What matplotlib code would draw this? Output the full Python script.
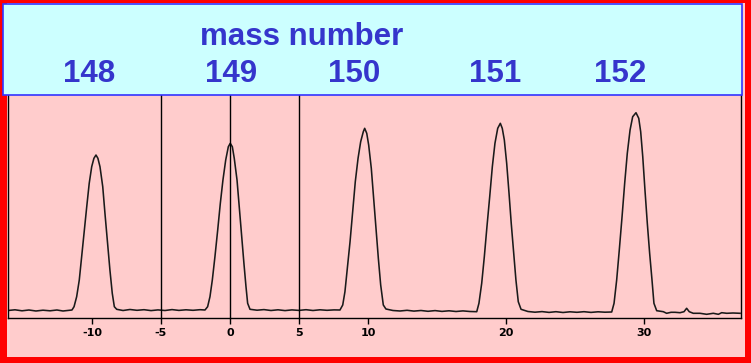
import matplotlib

matplotlib.use("Agg")
import matplotlib.pyplot as plt
import matplotlib.transforms as mtransforms
from matplotlib.patches import Rectangle

# Spectrum trace: offset (channel units) and intensity (counts)
offset = [
    -16.09, -15.58, -15.07, -14.57, -14.06, -13.55, -13.04, -12.54, -12.10, -11.74, -11.45,
    -11.30, -11.11, -10.92, -10.75, -10.58, -10.38, -10.20, -10.02, -9.86, -9.71,
    -9.57, -9.42, -9.22, -9.06, -8.89, -8.70, -8.53, -8.38, -8.21,
    -7.75, -7.25, -6.74, -6.23, -5.72, -5.22, -4.71, -4.20, -3.70, -3.19, -2.68, -2.17, -1.81,
    -1.62, -1.45, -1.28, -1.09, -0.89, -0.70, -0.51, -0.31, -0.12, 0.02,
    0.17, 0.31, 0.51, 0.67, 0.85, 1.01, 1.16, 1.28, 1.45,
    1.96, 2.46, 2.97, 3.48, 3.99, 4.49, 5.00, 5.51, 6.01, 6.52, 7.03, 7.54, 7.97,
    8.17, 8.33, 8.50, 8.70, 8.89, 9.08, 9.28, 9.47, 9.66, 9.76,
    9.91, 10.05, 10.24, 10.41, 10.58, 10.75, 10.92, 11.11, 11.30,
    11.81, 12.32, 12.83, 13.33, 13.84, 14.35, 14.86, 15.36, 15.87, 16.38, 16.88, 17.39, 17.88,
    18.04, 18.24, 18.43, 18.62, 18.82, 19.01, 19.20, 19.40, 19.59,
    19.73, 19.88, 20.05, 20.22, 20.38, 20.56, 20.72, 20.89, 21.09,
    21.59, 22.10, 22.61, 23.12, 23.62, 24.13, 24.64, 25.14, 25.65, 26.16, 26.67, 27.17, 27.66,
    27.83, 28.02, 28.21, 28.41, 28.60, 28.79, 28.99, 29.18, 29.42,
    29.62, 29.76, 29.91, 30.07, 30.24, 30.41, 30.58, 30.72, 30.92,
    31.40, 31.64, 31.96, 32.25, 32.61, 32.90, 33.09, 33.28, 33.57, 34.06, 34.54, 35.02,
    35.39, 35.63, 36.00, 36.45, 36.96,
]
intensity = [
    8.0, 8.7, 7.7, 8.5, 7.5, 8.3, 7.7, 8.5, 7.5, 8.0, 8.5,
    11.8, 21.8, 38.5, 61.8, 85.2, 111.8, 135.2, 151.8, 160.2, 163.5,
    160.2, 151.8, 131.8, 105.2, 78.5, 48.5, 25.2, 11.8, 9.2,
    8.0, 9.0, 8.2, 8.8, 7.9, 8.6, 8.0, 8.9, 8.1, 8.7, 8.2, 8.8, 8.5,
    11.8, 21.8, 38.5, 61.8, 88.5, 115.2, 138.5, 158.5, 171.8, 175.2,
    171.8, 160.2, 138.5, 111.8, 81.8, 55.2, 31.8, 15.2, 9.2,
    8.3, 8.9, 8.0, 8.7, 7.9, 8.6, 8.1, 8.8, 8.0, 8.7, 8.2, 8.6, 8.5,
    13.5, 26.8, 50.2, 76.8, 106.8, 136.8, 160.2, 176.8, 186.8, 190.2,
    185.2, 173.5, 150.2, 120.2, 90.2, 60.2, 33.5, 13.5, 9.5,
    8.0, 7.5, 8.2, 7.4, 8.0, 7.2, 7.9, 7.1, 7.7, 7.0, 7.6, 7.0, 6.8,
    15.2, 35.2, 61.8, 91.8, 121.8, 151.8, 175.2, 190.2, 195.2,
    190.2, 178.5, 155.2, 125.2, 95.2, 65.2, 38.5, 16.8, 9.2,
    7.0, 6.3, 6.9, 6.1, 6.8, 6.0, 6.7, 6.2, 6.8, 6.1, 6.7, 6.3, 6.5,
    15.2, 38.5, 68.5, 101.8, 135.2, 165.2, 188.5, 201.8, 205.8,
    200.2, 186.8, 161.8, 128.5, 95.2, 65.2, 38.5, 15.2, 7.8,
    6.8, 5.2, 6.2, 6.2, 5.8, 6.8, 10.2, 6.8, 5.2, 5.2, 4.2, 5.2,
    4.2, 5.8, 5.2, 5.5, 5.2,
]

tick_pos = [-10, -5, 0, 5, 10, 20, 30]
marker_lines = [-5, 0, 5]

mass_numbers = ["148", "149", "150", "151", "152"]
mass_pos = [-10.2, 0.1, 9.0, 19.2, 28.3]

RED = "#ff0000"
PINK = "#ffcccc"
CYAN = "#ccffff"
BLUE = "#3535cc"

fig = plt.figure(figsize=(7.51, 3.63), dpi=100, facecolor=RED)

# pink panel inside the red frame, kept under the axes
fig.patches.append(
    Rectangle((0.0093, 0.0165), 0.9827, 0.975, transform=fig.transFigure,
              facecolor=PINK, edgecolor="none", zorder=-1)
)

ax = fig.add_axes([0.0113, 0.1226, 0.9754, 0.6294])
ax.set_facecolor("none")
ax.plot(offset, intensity, color="#1a1a1a", linewidth=1.15)
for xv in marker_lines:
    ax.axvline(xv, color="black", linewidth=1.0)

ax.set_xlim(-16.05, 37.03)
ax.set_ylim(0, 228.5)
ax.set_xticks(tick_pos)
ax.set_xticklabels([str(t) for t in tick_pos], fontsize=8, fontweight="bold")
ax.tick_params(axis="x", direction="out", length=4, width=1, pad=2.5)
ax.set_yticks([])
ax.spines["top"].set_visible(False)
for s in ("left", "right", "bottom"):
    ax.spines[s].set_linewidth(1.0)

# header box with the mass number scale, drawn over the top of the axes
fig.patches.append(
    Rectangle((0.004, 0.7383), 0.984, 0.2507, transform=fig.transFigure,
              facecolor=CYAN, edgecolor="#3333ff", linewidth=1.2, zorder=2)
)
fig.text(0.402, 0.876, "mass number", ha="center", va="baseline",
         fontsize=22.5, fontweight="bold", color=BLUE, family="Liberation Sans", zorder=3)

trans = mtransforms.blended_transform_factory(ax.transData, fig.transFigure)
for lab, xp in zip(mass_numbers, mass_pos):
    fig.text(xp, 0.775, lab, transform=trans, ha="center", va="baseline",
             fontsize=22.5, fontweight="bold", color=BLUE, family="Liberation Sans", zorder=3)

plt.savefig("out.png", dpi=100, facecolor=RED)
plt.close()
